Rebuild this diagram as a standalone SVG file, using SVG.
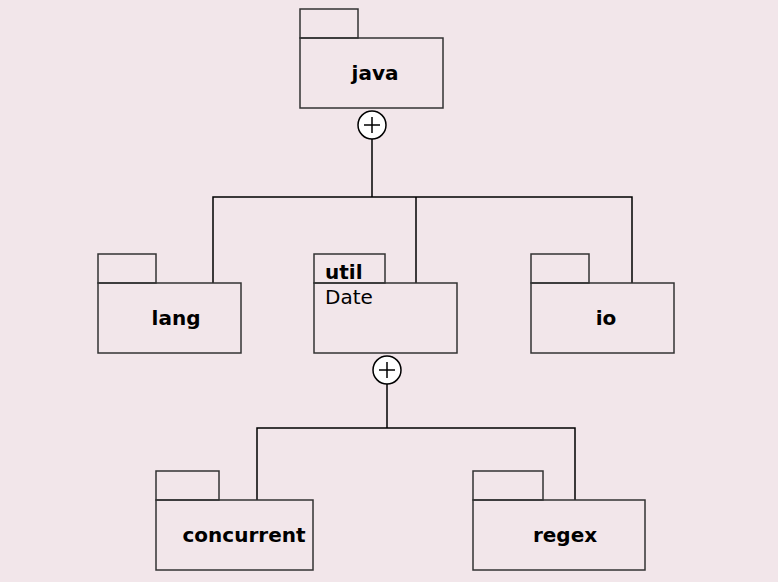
<svg xmlns="http://www.w3.org/2000/svg" width="778" height="582" viewBox="0 0 778 582">
<style>
.pk{fill:none;stroke:#333;stroke-width:1.5}
.ln{fill:none;stroke:#000;stroke-width:1.5}
.lbl{font-family:"DejaVu Sans",sans-serif;font-size:20px;font-weight:bold;fill:#000;text-anchor:middle}
.reg{font-family:"DejaVu Sans",sans-serif;font-size:20px;fill:#000}
.ci{fill:#fff;stroke:#000;stroke-width:1.5}
</style>
<rect width="778" height="582" fill="#f2e6ea"/>
<g id="connectors">
<line class="ln" x1="372" y1="139" x2="372" y2="197"/>
<polyline class="ln" points="213,283 213,197 632,197 632,283"/>
<line class="ln" x1="416" y1="197" x2="416" y2="283"/>
<circle class="ci" cx="372" cy="125" r="14"/>
<path class="ln" d="M364,125 H380 M372,117 V133"/>
<line class="ln" x1="387" y1="384" x2="387" y2="428"/>
<polyline class="ln" points="257,500 257,428 575,428 575,500"/>
<circle class="ci" cx="387" cy="370" r="14"/>
<path class="ln" d="M379,370 H395 M387,362 V378"/>
</g>
<g id="java">
<rect class="pk" x="300" y="9" width="58" height="29"/>
<rect class="pk" x="300" y="38" width="143" height="70"/>
<text class="lbl" x="375" y="80">java</text>
</g>
<g id="lang">
<rect class="pk" x="98" y="254" width="58" height="29"/>
<rect class="pk" x="98" y="283" width="143" height="70"/>
<text class="lbl" x="176" y="325">lang</text>
</g>
<g id="util">
<rect class="pk" x="314" y="254" width="71" height="29"/>
<rect class="pk" x="314" y="283" width="143" height="70"/>
<text class="lbl" x="325" y="279" style="text-anchor:start">util</text>
<text class="reg" x="325" y="304">Date</text>
</g>
<g id="io">
<rect class="pk" x="531" y="254" width="58" height="29"/>
<rect class="pk" x="531" y="283" width="143" height="70"/>
<text class="lbl" x="606" y="325">io</text>
</g>
<g id="concurrent">
<rect class="pk" x="156" y="471" width="63" height="29"/>
<rect class="pk" x="156" y="500" width="157" height="70"/>
<text class="lbl" x="244" y="542">concurrent</text>
</g>
<g id="regex">
<rect class="pk" x="473" y="471" width="70" height="29"/>
<rect class="pk" x="473" y="500" width="172" height="70"/>
<text class="lbl" x="565" y="542">regex</text>
</g>
</svg>
